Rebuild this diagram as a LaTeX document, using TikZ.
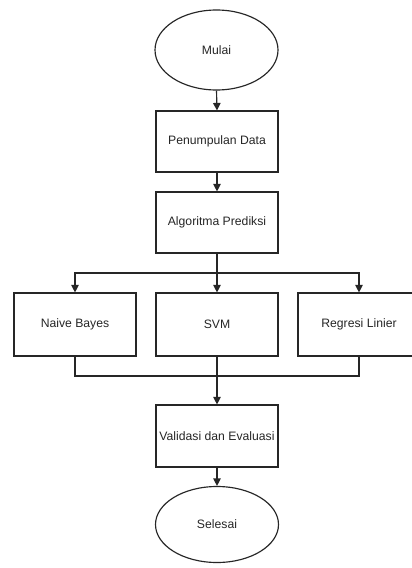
\documentclass[tikz,border=0pt]{standalone}
\usepackage{fontspec}
\setmainfont{Liberation Sans}
\usetikzlibrary{shapes.geometric,arrows.meta}
\begin{document}
\begin{tikzpicture}[x=1pt,y=-1pt,
  font=\fontsize{12.2}{14}\selectfont,
  box/.style={draw=black!85, line width=1.15pt, rectangle, minimum width=122pt, minimum height=61pt, inner sep=0pt, text=black!85},
  term/.style={draw=black!85, line width=1.15pt, ellipse, minimum width=123pt, minimum height=80pt, inner sep=0pt, text=black!85},
  conn/.style={draw=black!85, line width=1.15pt},
  arr/.style={conn, -{Triangle[width=7.5pt,length=7.5pt]}}]
\clip (0,0) rectangle (412,568);
\fill[white] (0,0) rectangle (412,568);
\node[term] (mulai) at (216.5,50) {Mulai};
\node[box] (pd) at (217,141.5) {Penumpulan Data};
\node[box] (ap) at (217,222.5) {Algoritma Prediksi};
\node[box, minimum height=63pt] (nb) at (75,324.5) {Naive Bayes};
\node[box, minimum height=63pt] (svm) at (217,324.5) {SVM};
\node[box, minimum height=63pt, minimum width=140pt] (rlbox) at (368,324.5) {};
\node[text=black!85, inner sep=0pt] (rl) at (359,324.5) {Regresi Linier};
\node[box, minimum height=62pt] (vd) at (217,436) {Validasi dan Evaluasi};
\node[term, minimum height=76pt] (sel) at (217,524.5) {Selesai};
\coordinate (split) at (217,273);
\coordinate (merge) at (217,376);
\draw[arr] (mulai.south) -- (pd.north);
\draw[arr] (pd.south) -- (ap.north);
\draw[arr] (ap.south) -- (svm.north);
\draw[arr] (split) -| (nb.north);
\draw[arr] (split) -| (rl |- rlbox.north);
\draw[conn] (nb.south) |- (merge);
\draw[conn] (rl |- rlbox.south) |- (merge);
\draw[arr] (svm.south) -- (vd.north);
\draw[arr] (vd.south) -- (sel.north);
\end{tikzpicture}
\end{document}
